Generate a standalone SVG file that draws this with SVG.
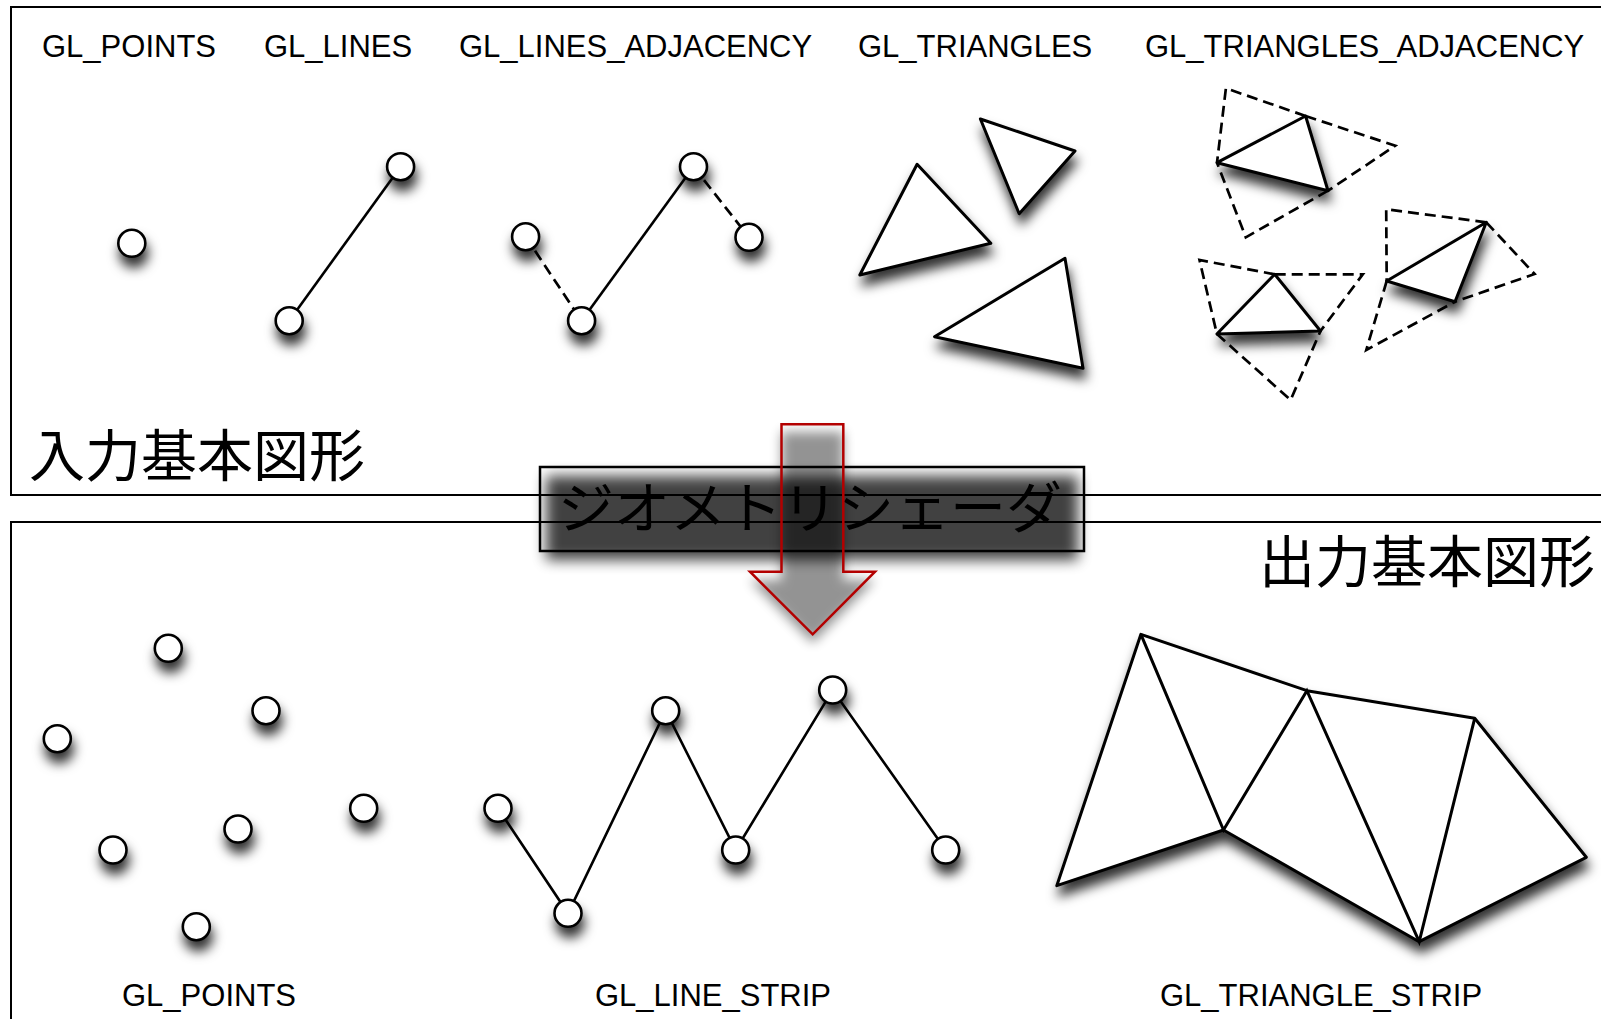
<svg xmlns="http://www.w3.org/2000/svg" width="1601" height="1019" viewBox="0 0 1601 1019">
<style>
.lbl{font-family:"Liberation Sans",Arial,sans-serif;font-size:31px;fill:#000}
.jp{font-family:"Noto Sans CJK JP","Noto Sans CJK SC",sans-serif;font-size:56px;fill:#000}
.panel{fill:none;stroke:#000;stroke-width:2}
.pt{fill:#fff;stroke:#000;stroke-width:2.6}
.ln{fill:none;stroke:#000;stroke-width:2.6}
.dash{fill:none;stroke:#000;stroke-width:2.7;stroke-dasharray:11 6}
.tri{fill:#fff;stroke:#000;stroke-width:3;stroke-linejoin:round}
</style>
<defs>
<filter id="sh" filterUnits="userSpaceOnUse" x="-50" y="-50" width="1700" height="1120">
<feDropShadow dx="2" dy="10" stdDeviation="6" flood-color="#000" flood-opacity="0.8"/>
</filter>
<filter id="blur8" filterUnits="userSpaceOnUse" x="-50" y="-50" width="1700" height="1120">
<feGaussianBlur stdDeviation="7"/>
</filter>
<filter id="blur5" filterUnits="userSpaceOnUse" x="-50" y="-50" width="1700" height="1120">
<feGaussianBlur stdDeviation="6"/>
</filter>
</defs>
<rect width="1601" height="1019" fill="#fff"/>

<g id="panel-input">
<rect class="panel" x="11" y="7" width="1600" height="488"/>
<text class="jp" x="29" y="476">入力基本図形</text>
</g>
<g id="panel-output">
<rect class="panel" x="11" y="522" width="1600" height="520"/>
<text class="jp" x="1595" y="582" text-anchor="end">出力基本図形</text>
</g>

<g id="labels-top">
<text class="lbl" x="42" y="57">GL_POINTS</text>
<text class="lbl" x="264" y="57">GL_LINES</text>
<text class="lbl" x="459" y="57">GL_LINES_ADJACENCY</text>
<text class="lbl" x="858" y="57">GL_TRIANGLES</text>
<text class="lbl" x="1145" y="57">GL_TRIANGLES_ADJACENCY</text>
</g>

<g id="connectors">
<line class="ln" x1="289.2" y1="320.7" x2="400.6" y2="166.7"/>
<line class="dash" x1="525.6" y1="236.7" x2="581.6" y2="320.7"/>
<line class="ln" x1="581.6" y1="320.7" x2="693.5" y2="166.7"/>
<line class="dash" x1="693.5" y1="166.7" x2="749" y2="237.3"/>
<polyline class="ln" points="498,808.3 568,913.3 665.7,710.7 735.7,850 832.7,690 945.7,850"/>
</g>

<g id="in-points" filter="url(#sh)">
<circle class="pt" cx="131.8" cy="243.3" r="13.5"/>
</g>
<g id="in-lines" filter="url(#sh)">
<circle class="pt" cx="400.6" cy="166.7" r="13.5"/>
<circle class="pt" cx="289.2" cy="320.7" r="13.5"/>
</g>
<g id="in-lines-adjacency" filter="url(#sh)">
<circle class="pt" cx="525.6" cy="236.7" r="13.5"/>
<circle class="pt" cx="581.6" cy="320.7" r="13.5"/>
<circle class="pt" cx="693.5" cy="166.7" r="13.5"/>
<circle class="pt" cx="749" cy="237.3" r="13.5"/>
</g>

<g id="in-triangles" filter="url(#sh)">
<polygon class="tri" points="917.1,164.3 990.8,243.3 859.8,275"/>
<polygon class="tri" points="980.4,119 1075,151 1019.2,213.7"/>
<polygon class="tri" points="1065,258.3 1083,368.3 934.5,336.7"/>
</g>

<g id="in-triangles-adjacency">
<g filter="url(#sh)">
<polygon class="tri" points="1305.6,116 1328,190.7 1217,162.7"/>
<polygon class="tri" points="1274.7,274.3 1320.5,331 1216.9,334"/>
<polygon class="tri" points="1486.3,222.3 1455,301.7 1386.7,281"/>
</g>
<g>
<polyline class="dash" points="1305.6,116 1225.9,88.3 1217,162.7"/>
<polyline class="dash" points="1305.6,116 1395.2,145.7 1328,190.7"/>
<polyline class="dash" points="1328,190.7 1245.8,237.3 1217,162.7"/>
<polyline class="dash" points="1274.7,274.3 1199.5,260 1216.9,334"/>
<polyline class="dash" points="1274.7,274.3 1362.8,274.3 1320.5,331"/>
<polyline class="dash" points="1216.9,334 1290.6,400 1320.5,331"/>
<polyline class="dash" points="1486.3,222.3 1386.2,209.3 1386.7,281"/>
<polyline class="dash" points="1486.3,222.3 1534.6,274 1455,301.7"/>
<polyline class="dash" points="1386.7,281 1366.3,350 1455,301.7"/>
</g>
</g>

<g id="out-points" filter="url(#sh)">
<circle class="pt" cx="168.3" cy="648.3" r="13.5"/>
<circle class="pt" cx="266" cy="710.7" r="13.5"/>
<circle class="pt" cx="57.3" cy="738.7" r="13.5"/>
<circle class="pt" cx="113" cy="850" r="13.5"/>
<circle class="pt" cx="238" cy="829" r="13.5"/>
<circle class="pt" cx="363.7" cy="808.3" r="13.5"/>
<circle class="pt" cx="196.3" cy="926.7" r="13.5"/>
</g>
<g id="out-line-strip" filter="url(#sh)">
<circle class="pt" cx="498" cy="808.3" r="13.5"/>
<circle class="pt" cx="568" cy="913.3" r="13.5"/>
<circle class="pt" cx="665.7" cy="710.7" r="13.5"/>
<circle class="pt" cx="735.7" cy="850" r="13.5"/>
<circle class="pt" cx="832.7" cy="690" r="13.5"/>
<circle class="pt" cx="945.7" cy="850" r="13.5"/>
</g>
<g id="out-triangle-strip">
<polygon class="tri" filter="url(#sh)" points="1140.9,634.3 1306.9,690.7 1474.7,718.3 1586.3,857.3 1419.2,941.7 1223.5,830 1056.8,885.7"/>
<polyline class="ln" style="stroke-width:3" points="1140.9,634.3 1223.5,830 1306.9,690.7 1419.2,941.7 1474.7,718.3"/>
</g>

<g id="labels-bottom">
<text class="lbl" x="122" y="1006">GL_POINTS</text>
<text class="lbl" x="595" y="1006">GL_LINE_STRIP</text>
<text class="lbl" x="1160" y="1006">GL_TRIANGLE_STRIP</text>
</g>

<g id="geometry-shader">
<rect x="546" y="476" width="532" height="84" fill="#000" opacity="0.74" filter="url(#blur8)"/>
<polygon points="781.5,432 843.3,432 843.3,580 875,580 812.7,643 750,580 781.5,580" fill="#000" opacity="0.42" filter="url(#blur5)"/>
<rect x="540" y="467" width="544" height="84" fill="none" stroke="#000" stroke-width="2.5"/>
<text class="jp" x="810" y="528" text-anchor="middle">ジオメトリシェーダ</text>
</g>
<g id="arrow">
<polygon points="781.5,424.3 843.3,424.3 843.3,571.7 875,571.7 812.7,634.3 750,571.7 781.5,571.7" fill="none" stroke="#b30000" stroke-width="2.5"/>
</g>
</svg>
